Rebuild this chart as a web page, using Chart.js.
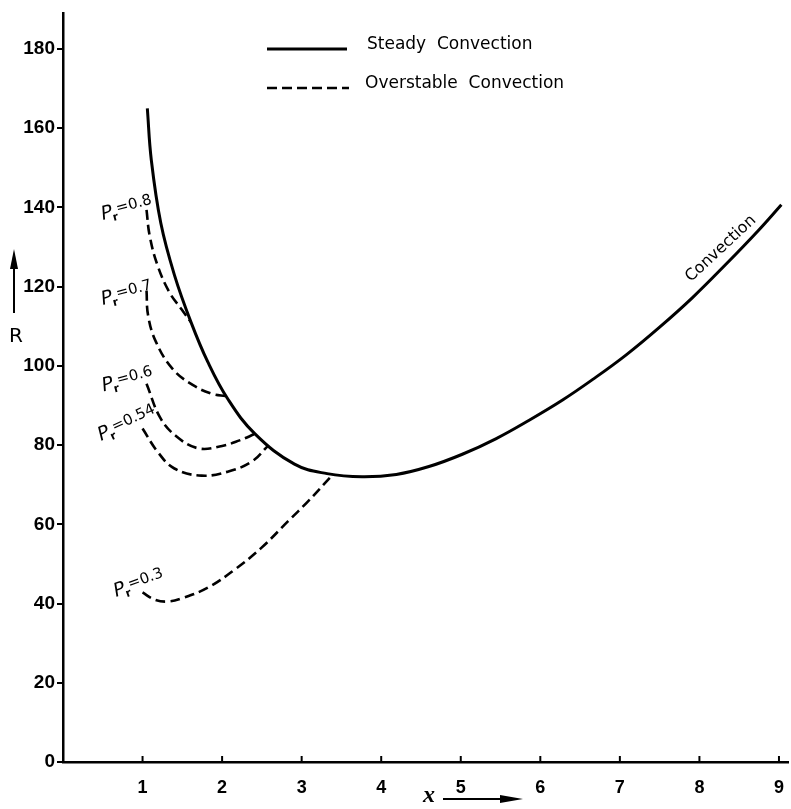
<!DOCTYPE html>
<html>
<head>
<meta charset="utf-8">
<script src="https://cdn.jsdelivr.net/npm/chart.js@4"></script>
<style>
  body { margin: 0; background: #fff; }
  canvas { display: block; }
</style>
</head>
<body>
<canvas id="chart" width="791" height="809"></canvas>
<script>
// values (x = wave number, R = Rayleigh number)
const steadyX = [1.06, 1.11, 1.23, 1.4, 1.61, 1.82, 2.07, 2.41, 2.91, 3.32, 3.76, 4.19, 4.6, 5.02, 5.44, 5.86, 6.28, 6.66, 7.08, 7.5, 7.91, 8.33, 8.75, 9.03];
const steadyR = [165, 152, 136, 123, 111, 101, 91.7, 82.9, 75.2, 72.8, 72, 72.6, 74.6, 77.7, 81.6, 86.3, 91.4, 96.6, 102.8, 109.8, 117.2, 125.6, 134.4, 140.7];

const pr08X = [1.05, 1.09, 1.19, 1.34, 1.49, 1.61];
const pr08R = [139.4, 132.8, 125.3, 118.5, 114.3, 111];

const pr07X = [1.05, 1.07, 1.17, 1.38, 1.63, 1.88, 2.05];
const pr07R = [119, 112.7, 106, 99.2, 95.2, 92.9, 92.4];

const pr06X = [1.05, 1.22, 1.42, 1.7, 2.0, 2.22, 2.42];
const pr06R = [95.5, 87, 82.3, 79.2, 79.8, 81.2, 82.9];

const pr054X = [1.0, 1.19, 1.4, 1.74, 2.07, 2.37, 2.57];
const pr054R = [84.2, 78.3, 74.1, 72.3, 73.3, 75.8, 79.7];

const pr03X = [1.0, 1.15, 1.31, 1.49, 1.82, 2.16, 2.49, 2.83, 3.08, 3.37];
const pr03R = [42.8, 41.0, 40.5, 41.3, 44, 48.6, 54, 60.8, 65.8, 72.1];

// label anchors in data units: [x, R, text, angle]
const prLabels = [
    [0.80, 140.3, '0.8', -15],
    [0.80, 118.8, '0.7', -15],
    [0.81, 97.0, '0.6', -15],
    [0.80, 86.0, '0.54', -25],
    [0.95, 45.6, '0.3', -20]
];
const xTicks = [1, 2, 3, 4, 5, 6, 7, 8, 9];
const rTicks = [0, 20, 40, 60, 80, 100, 120, 140, 160, 180];

function pts(xs, ys) {
    return xs.map((x, i) => ({ x: x, y: ys[i] }));
}

function curve(label, xs, ys, dashed) {
    return {
        label: label,
        data: pts(xs, ys),
        borderColor: '#000',
        borderWidth: dashed ? 2.6 : 3,
        borderDash: dashed ? [10, 5] : [],
        pointRadius: 0,
        tension: 0.4,
        fill: false,
        clip: false
    };
}

function drawPr(ctx, x, y, val, angle) {
    ctx.save();
    ctx.translate(x, y);
    ctx.rotate(angle * Math.PI / 180);
    ctx.fillStyle = '#000';
    ctx.textBaseline = 'alphabetic';
    ctx.font = 'italic 19px "DejaVu Sans"';
    const wP = ctx.measureText('P').width;
    ctx.font = 'bold 11px "DejaVu Sans"';
    const wr = ctx.measureText('r').width;
    ctx.font = '15px "DejaVu Sans"';
    const wv = ctx.measureText('=' + val).width;
    let cx = -(wP + wr + wv) / 2;
    ctx.font = 'italic 19px "DejaVu Sans"';
    ctx.fillText('P', cx, 7);
    cx += wP - 1;
    ctx.font = 'bold 11px "DejaVu Sans"';
    ctx.fillText('r', cx, 11);
    cx += wr;
    ctx.font = '15px "DejaVu Sans"';
    ctx.fillText('=' + val, cx, 4);
    ctx.restore();
}

const decor = {
    id: 'decor',
    afterDraw(chart) {
        const ctx = chart.ctx;
        const xs = chart.scales.x;
        const ys = chart.scales.y;
        const area = chart.chartArea;
        ctx.save();
        ctx.strokeStyle = '#000';
        ctx.fillStyle = '#000';

        // inward x ticks
        ctx.lineWidth = 2;
        xTicks.forEach(v => {
            const px = xs.getPixelForValue(v);
            ctx.beginPath();
            ctx.moveTo(px, area.bottom);
            ctx.lineTo(px, area.bottom - 6);
            ctx.stroke();
        });

        // legend
        ctx.lineWidth = 3;
        ctx.beginPath();
        ctx.moveTo(267, 49);
        ctx.lineTo(347, 49);
        ctx.stroke();
        ctx.lineWidth = 2.6;
        ctx.setLineDash([10, 5]);
        ctx.beginPath();
        ctx.moveTo(267, 88);
        ctx.lineTo(349, 88);
        ctx.stroke();
        ctx.setLineDash([]);
        ctx.font = '17px "DejaVu Sans"';
        ctx.textBaseline = 'middle';
        ctx.textAlign = 'left';
        ctx.fillText('Steady  Convection', 367, 45);
        ctx.fillText('Overstable  Convection', 365, 84);

        // Pr labels
        prLabels.forEach(l => {
            drawPr(ctx, xs.getPixelForValue(l[0]), ys.getPixelForValue(l[1]), l[2], l[3]);
        });

        // label along the steady curve
        ctx.save();
        ctx.translate(xs.getPixelForValue(8.27), ys.getPixelForValue(129.6));
        ctx.rotate(-43 * Math.PI / 180);
        ctx.font = '16px "DejaVu Sans"';
        ctx.textAlign = 'center';
        ctx.fillText('Convection', 0, 0);
        ctx.restore();

        // R axis title with arrow
        ctx.font = '20px "DejaVu Sans"';
        ctx.textAlign = 'center';
        ctx.fillText('R', 16, 337);
        ctx.lineWidth = 2;
        ctx.beginPath();
        ctx.moveTo(14, 313);
        ctx.lineTo(14, 262);
        ctx.stroke();
        ctx.beginPath();
        ctx.moveTo(14, 249);
        ctx.lineTo(10, 269);
        ctx.lineTo(18, 269);
        ctx.closePath();
        ctx.fill();

        // x axis title with arrow
        ctx.font = 'bold italic 24px "Liberation Serif"';
        ctx.fillText('x', 429, 796);
        ctx.beginPath();
        ctx.moveTo(443, 799);
        ctx.lineTo(505, 799);
        ctx.stroke();
        ctx.beginPath();
        ctx.moveTo(523, 799);
        ctx.lineTo(500, 795);
        ctx.lineTo(500, 803);
        ctx.closePath();
        ctx.fill();

        ctx.restore();
    }
};

new Chart(document.getElementById('chart'), {
    type: 'line',
    data: {
        datasets: [
            curve('Steady Convection', steadyX, steadyR, false),
            curve('Pr=0.8', pr08X, pr08R, true),
            curve('Pr=0.7', pr07X, pr07R, true),
            curve('Pr=0.6', pr06X, pr06R, true),
            curve('Pr=0.54', pr054X, pr054R, true),
            curve('Pr=0.3', pr03X, pr03R, true)
        ]
    },
    options: {
        responsive: false,
        animation: false,
        layout: { padding: { top: 10, right: 2, left: 0, bottom: 0 } },
        plugins: {
            legend: { display: false },
            tooltip: { enabled: false }
        },
        scales: {
            x: {
                type: 'linear',
                min: 0,
                max: 9.12,
                afterBuildTicks: s => { s.ticks = xTicks.map(v => ({ value: v })); },
                afterFit: s => { s.height = 47; },
                ticks: {
                    color: '#000',
                    font: { family: 'Liberation Sans', size: 18, weight: 'bold' },
                    padding: 7,
                    maxRotation: 0
                },
                grid: { display: false },
                border: { color: '#000', width: 2.5 }
            },
            y: {
                min: 0,
                max: 189,
                afterBuildTicks: s => { s.ticks = rTicks.map(v => ({ value: v })); },
                afterFit: s => { s.width = 63; },
                ticks: {
                    color: '#000',
                    font: { family: 'Liberation Sans', size: 19, weight: 'bold' },
                    padding: 2
                },
                grid: {
                    drawOnChartArea: false,
                    drawTicks: true,
                    tickLength: 6,
                    color: '#000',
                    lineWidth: 2
                },
                border: { color: '#000', width: 2.5 }
            }
        }
    },
    plugins: [decor]
});
</script>
</body>
</html>
